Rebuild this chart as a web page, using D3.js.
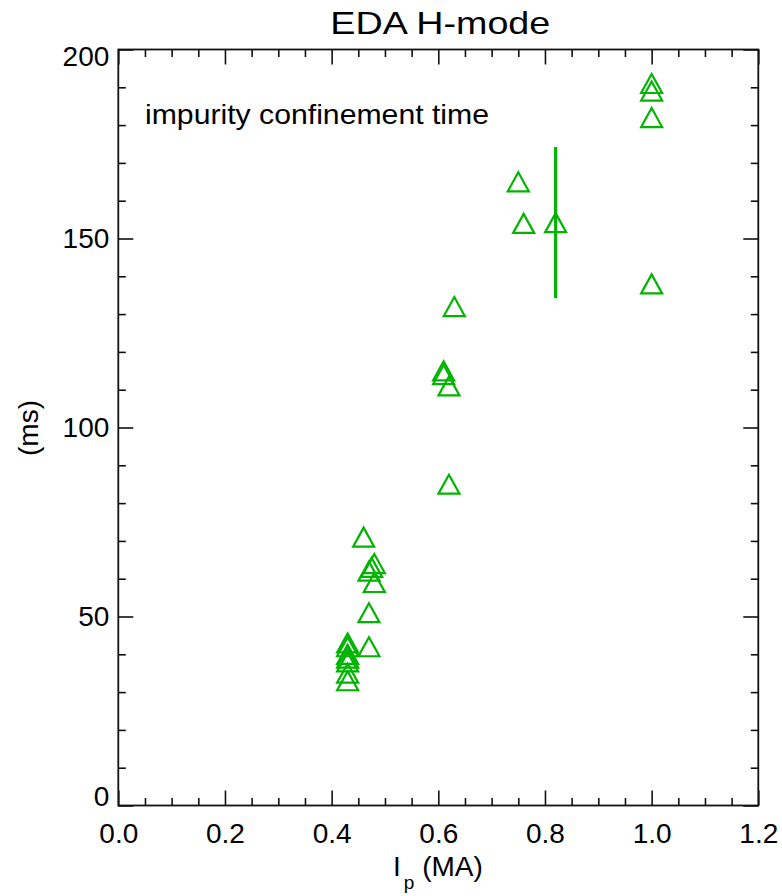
<!DOCTYPE html>
<html>
<head>
<meta charset="utf-8">
<script src="https://cdn.jsdelivr.net/npm/d3@7"></script>
<style>
  html, body { margin: 0; padding: 0; background: #fff; }
  svg { display: block; }
  text { font-family: "Liberation Sans", Arial, Helvetica, sans-serif; fill: #000; }
</style>
</head>
<body>
<svg id="chart" width="782" height="896"></svg>
<script>
// ---- data ----
const ipMA = [0.43, 0.43, 0.43, 0.43, 0.43, 0.43, 0.43,
              0.46, 0.475, 0.48, 0.47, 0.48, 0.47, 0.47,
              0.61, 0.61, 0.62, 0.62, 0.63,
              0.75, 0.76, 0.82,
              1.0, 1.0, 1.0, 1.0];
const tauMs = [43, 42, 40, 39, 38, 35, 33,
               71, 63, 64, 62, 59, 51, 42,
               115, 114, 111, 85, 132,
               165, 154, 154.2,
               191, 189, 182, 138];
const errX = [0.82];
const errY = [154.2];
const errBar = [20];

const xTicks = [0.0, 0.2, 0.4, 0.6, 0.8, 1.0, 1.2];
const xTickLabels = ["0.0", "0.2", "0.4", "0.6", "0.8", "1.0", "1.2"];
const xMinorStep = 0.05;
const yTicks = [0, 50, 100, 150, 200];
const yTickLabels = ["0", "50", "100", "150", "200"];
const yMinorStep = 10;

const titleText = "EDA H-mode";
const noteText = "impurity confinement time";
const yTitle = "(ms)";

// ---- layout ----
const svg = d3.select("#chart");
const L = 118.3, R = 758.3, T = 49.5, B = 805.5;
const green = "#00b400";
const axisColor = "#111";

const x = d3.scaleLinear().domain([0, 1.2]).range([L, R]);
const y = d3.scaleLinear().domain([0, 200]).range([B, T]);

const xMinor = d3.range(0, 1.2 + 1e-9, xMinorStep).filter(v => !xTicks.some(t => Math.abs(t - v) < 1e-6));
const yMinor = d3.range(0, 200 + 1e-9, yMinorStep).filter(v => !yTicks.some(t => Math.abs(t - v) < 1e-6));

function styleAxis(g) {
  g.select(".domain").remove();
  g.selectAll("line").attr("stroke", axisColor).attr("stroke-width", 1.6);
  g.selectAll("text").attr("font-size", 28).attr("fill", "#000")
    .attr("font-family", '"Liberation Sans", Arial, Helvetica, sans-serif');
}

// bottom axis: majors with labels, minors
svg.append("g").attr("transform", `translate(0,${B})`)
  .call(d3.axisBottom(x).tickValues(xTicks).tickFormat((d, i) => xTickLabels[i])
        .tickSize(-15).tickSizeOuter(0).tickPadding(17.6))
  .call(styleAxis);
svg.append("g").attr("transform", `translate(0,${B})`)
  .call(d3.axisBottom(x).tickValues(xMinor).tickFormat("").tickSize(-7.5).tickSizeOuter(0))
  .call(styleAxis);
// top axis
svg.append("g").attr("transform", `translate(0,${T})`)
  .call(d3.axisTop(x).tickValues(xTicks).tickFormat("").tickSize(-15).tickSizeOuter(0))
  .call(styleAxis);
svg.append("g").attr("transform", `translate(0,${T})`)
  .call(d3.axisTop(x).tickValues(xMinor).tickFormat("").tickSize(-7.5).tickSizeOuter(0))
  .call(styleAxis);

// left axis
const gl = svg.append("g").attr("transform", `translate(${L},0)`)
  .call(d3.axisLeft(y).tickValues(yTicks).tickFormat((d, i) => yTickLabels[i])
        .tickSize(-15).tickSizeOuter(0).tickPadding(9))
  .call(styleAxis);
// end labels nudged inward like the reference
gl.selectAll(".tick text").attr("dy", d => d === 0 ? "0.32em" : "0.32em")
  .attr("y", d => d === yTicks[0] ? -9 : (d === yTicks[yTicks.length - 1] ? 7.5 : 0));
svg.append("g").attr("transform", `translate(${L},0)`)
  .call(d3.axisLeft(y).tickValues(yMinor).tickFormat("").tickSize(-7.5).tickSizeOuter(0))
  .call(styleAxis);
// right axis
svg.append("g").attr("transform", `translate(${R},0)`)
  .call(d3.axisRight(y).tickValues(yTicks).tickFormat("").tickSize(-15).tickSizeOuter(0))
  .call(styleAxis);
svg.append("g").attr("transform", `translate(${R},0)`)
  .call(d3.axisRight(y).tickValues(yMinor).tickFormat("").tickSize(-7.5).tickSizeOuter(0))
  .call(styleAxis);

// frame
svg.append("rect").attr("x", L).attr("y", T).attr("width", R - L).attr("height", B - T)
  .attr("fill", "none").attr("stroke", axisColor).attr("stroke-width", 1.8);

// error bar
svg.append("g").selectAll("line").data(errX).join("line")
  .attr("x1", d => x(d)).attr("x2", d => x(d))
  .attr("y1", (d, i) => y(errY[i] - errBar[i]))
  .attr("y2", (d, i) => y(errY[i] + errBar[i]))
  .attr("stroke", green).attr("stroke-width", 3.2);

// triangles
const tri = "M0,-9.5L10.5,9.5L-10.5,9.5Z";
svg.append("g").selectAll("path").data(ipMA).join("path")
  .attr("d", tri)
  .attr("transform", (d, i) => `translate(${x(d)},${y(tauMs[i])})`)
  .attr("fill", "none").attr("stroke", green).attr("stroke-width", 2.2)
  .attr("stroke-linejoin", "miter");

// title
svg.append("text").attr("x", (L + R) / 2 + 2).attr("y", 33.5)
  .attr("text-anchor", "middle").attr("font-size", 32)
  .attr("textLength", 220).attr("lengthAdjust", "spacingAndGlyphs")
  .text(titleText);

// annotation
svg.append("text").attr("x", 145).attr("y", 123.5)
  .attr("font-size", 28)
  .attr("textLength", 344).attr("lengthAdjust", "spacingAndGlyphs")
  .text(noteText);

// y title
svg.append("text").attr("transform", "translate(38,428) rotate(-90)")
  .attr("text-anchor", "middle").attr("font-size", 28)
  .text(yTitle);

// x title: I_p (MA)
const xt = svg.append("text").attr("x", 393).attr("y", 876).attr("font-size", 28);
xt.append("tspan").text("I");
xt.append("tspan").attr("font-size", 19).attr("dy", 13).attr("dx", 3).text("p");
xt.append("tspan").attr("dy", -13).text(" (MA)");
</script>
</body>
</html>
